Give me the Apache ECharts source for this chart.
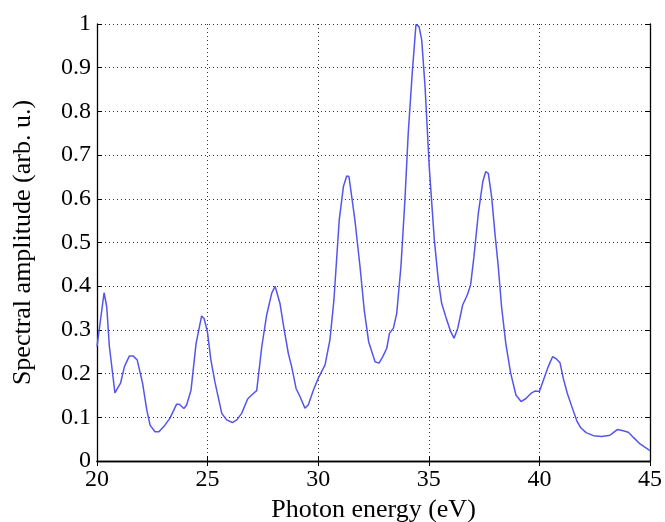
<!DOCTYPE html>
<html>
<head>
<meta charset="utf-8">
<script src="https://cdn.jsdelivr.net/npm/echarts@6/dist/echarts.min.js"></script>
<style>html,body{margin:0;padding:0;background:#fff}#c{width:665px;height:522px}</style>
</head>
<body>
<div id="c"></div>
<script>
const energy = [20.00,20.32,20.44,20.56,20.81,21.07,21.24,21.46,21.64,21.82,22.06,22.25,22.40,22.62,22.80,23.07,23.30,23.60,23.72,23.93,24.05,24.25,24.48,24.73,24.84,24.99,25.15,25.33,25.64,25.86,26.12,26.32,26.54,26.81,26.99,27.22,27.45,27.67,27.90,28.05,28.27,28.45,28.65,28.80,29.00,29.18,29.40,29.55,29.78,30.00,30.31,30.53,30.71,30.95,31.14,31.29,31.39,31.66,31.89,32.08,32.28,32.57,32.75,32.92,33.10,33.22,33.40,33.55,33.74,33.92,34.07,34.25,34.42,34.56,34.68,34.83,35.02,35.25,35.43,35.58,35.81,35.99,36.14,36.31,36.53,36.74,36.89,37.04,37.24,37.44,37.57,37.69,37.84,37.99,38.14,38.29,38.48,38.70,38.94,39.17,39.39,39.65,39.80,40.00,40.18,40.40,40.60,40.78,40.93,41.08,41.26,41.49,41.69,41.87,42.11,42.44,42.82,43.19,43.34,43.52,43.79,44.02,44.25,44.55,45.00];
const amplitude = [0.262,0.385,0.353,0.262,0.156,0.179,0.216,0.240,0.240,0.231,0.178,0.117,0.082,0.067,0.067,0.082,0.098,0.130,0.130,0.120,0.128,0.162,0.269,0.332,0.326,0.296,0.231,0.181,0.109,0.094,0.088,0.094,0.109,0.142,0.151,0.161,0.262,0.334,0.384,0.400,0.361,0.304,0.246,0.216,0.166,0.147,0.121,0.128,0.162,0.189,0.220,0.277,0.368,0.551,0.628,0.652,0.651,0.551,0.445,0.346,0.273,0.227,0.224,0.239,0.258,0.292,0.304,0.338,0.445,0.597,0.750,0.887,0.999,0.994,0.963,0.857,0.673,0.506,0.414,0.361,0.323,0.296,0.281,0.304,0.357,0.380,0.403,0.467,0.567,0.639,0.662,0.658,0.605,0.521,0.445,0.353,0.269,0.201,0.151,0.136,0.143,0.156,0.160,0.159,0.185,0.216,0.239,0.233,0.225,0.189,0.155,0.121,0.092,0.076,0.065,0.058,0.056,0.059,0.065,0.072,0.069,0.066,0.054,0.039,0.024];
const xTitle = 'Photon energy (eV)';
const yTitle = 'Spectral amplitude (arb. u.)';

const font = 'Liberation Serif';
const chart = echarts.init(document.getElementById('c'), null, {renderer: 'canvas'});
const axisLine = {show: true, lineStyle: {color: '#000', width: 1.3}};
const tick = {show: true, inside: true, length: 5, lineStyle: {color: '#000', width: 1}};
const grid = {show: true, lineStyle: {color: '#000', width: 0.8, type: [1, 3]}};
chart.setOption({
  animation: false,
  grid: {left: 97, right: 15, top: 24, bottom: 61, containLabel: false, outerBoundsMode: 'none'},
  xAxis: [{
    type: 'value', min: 20, max: 45, interval: 5, position: 'bottom',
    name: xTitle, nameLocation: 'middle', nameGap: 35,
    nameTextStyle: {fontFamily: font, fontSize: 26, color: '#000'},
    axisLine: axisLine, axisTick: tick, splitLine: grid,
    axisLabel: {fontFamily: font, fontSize: 24, color: '#000', margin: 7}
  }, {
    type: 'value', min: 20, max: 45, interval: 5, position: 'top',
    axisLine: axisLine, axisTick: tick, splitLine: {show: false}, axisLabel: {show: false}
  }],
  yAxis: [{
    type: 'value', min: 0, max: 1, interval: 0.1, position: 'left',
    name: yTitle, nameLocation: 'middle', nameGap: 61, nameRotate: 90,
    nameTextStyle: {fontFamily: font, fontSize: 26, color: '#000'},
    axisLine: axisLine, axisTick: tick, splitLine: grid,
    axisLabel: {fontFamily: font, fontSize: 24, color: '#000', margin: 6}
  }, {
    type: 'value', min: 0, max: 1, interval: 0.1, position: 'right',
    axisLine: axisLine, axisTick: tick, splitLine: {show: false}, axisLabel: {show: false}
  }],
  series: [{
    type: 'line',
    data: energy.map((e, i) => [e, amplitude[i]]),
    showSymbol: false, symbol: 'none', smooth: false,
    lineStyle: {color: '#5555ee', width: 1.5},
    clip: false
  }]
});
</script>
</body>
</html>
